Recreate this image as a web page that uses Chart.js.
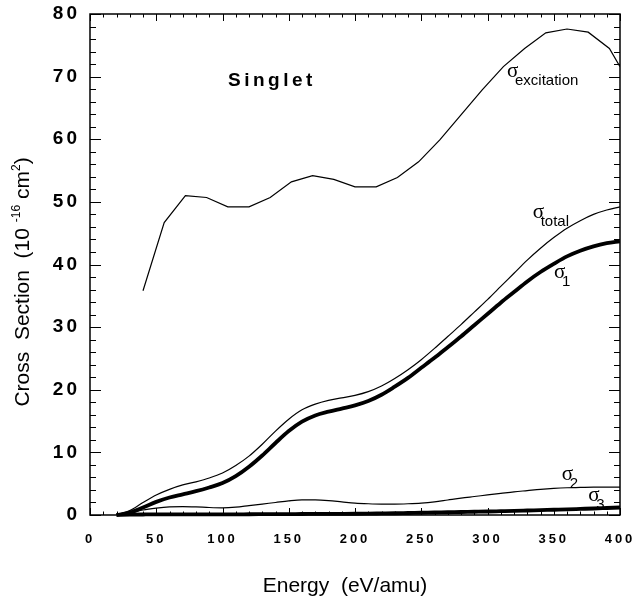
<!DOCTYPE html>
<html>
<head>
<meta charset="utf-8">
<script src="https://cdn.jsdelivr.net/npm/chart.js@4.4.0/dist/chart.umd.min.js"></script>
<style>
	html, body { margin: 0; padding: 0; background: #fff; }
	#wrap { width: 634px; height: 607px; }
</style>
</head>
<body>
<div id="wrap"><canvas id="chart" width="634" height="607"></canvas></div>
<script>
const energy = [20, 30, 40, 50, 60, 70, 80, 90, 100, 110, 120, 130, 140, 150, 160, 170, 180, 190, 200, 210, 220, 230, 240, 250, 260, 270, 280, 290, 300, 310, 320, 330, 340, 350, 360, 370, 380, 390, 400];
const sigmaTotal = [0, 0.7, 2.0, 3.2, 4.1, 4.8, 5.3, 5.9, 6.7, 7.9, 9.4, 11.3, 13.4, 15.3, 16.8, 17.7, 18.3, 18.7, 19.1, 19.7, 20.6, 21.8, 23.2, 24.8, 26.6, 28.5, 30.4, 32.4, 34.4, 36.5, 38.6, 40.7, 42.6, 44.3, 45.8, 47.0, 48.0, 48.7, 49.2];
const sigma1 = [0, 0.4, 1.2, 2.1, 2.8, 3.3, 3.8, 4.4, 5.1, 6.2, 7.7, 9.5, 11.5, 13.4, 14.9, 15.9, 16.5, 17.0, 17.5, 18.2, 19.2, 20.5, 21.9, 23.5, 25.1, 26.8, 28.5, 30.3, 32.1, 33.9, 35.6, 37.3, 38.8, 40.1, 41.3, 42.2, 42.9, 43.4, 43.7];
const sigma2 = [0, 0.3, 0.8, 1.1, 1.3, 1.35, 1.3, 1.2, 1.15, 1.25, 1.5, 1.75, 2.0, 2.25, 2.4, 2.4, 2.3, 2.1, 1.9, 1.8, 1.75, 1.75, 1.8, 1.9, 2.1, 2.4, 2.7, 2.95, 3.2, 3.45, 3.7, 3.9, 4.1, 4.25, 4.35, 4.4, 4.45, 4.45, 4.45];
const sigma3 = [0, 0.05, 0.08, 0.1, 0.1, 0.1, 0.1, 0.1, 0.1, 0.1, 0.12, 0.13, 0.14, 0.15, 0.16, 0.17, 0.18, 0.19, 0.2, 0.22, 0.25, 0.28, 0.32, 0.36, 0.4, 0.44, 0.48, 0.52, 0.56, 0.61, 0.66, 0.72, 0.78, 0.84, 0.9, 0.97, 1.04, 1.12, 1.2];
const excitationEnergy = [40, 56, 72, 88, 104, 120, 136, 152, 168, 184, 200, 216, 232, 248, 264, 280, 296, 312, 328, 344, 360, 376, 392, 400];
const sigmaExcitation = [35.8, 46.7, 51.0, 50.7, 49.2, 49.2, 50.7, 53.2, 54.2, 53.6, 52.4, 52.4, 53.9, 56.4, 59.9, 63.9, 67.9, 71.6, 74.5, 77.0, 77.6, 77.1, 74.5, 71.6];
const xTicks = [0, 50, 100, 150, 200, 250, 300, 350, 400];
const yTicks = [0, 10, 20, 30, 40, 50, 60, 70, 80];
const curveNames = ['excitation', 'total', '1', '2', '3'];
const nameEnergy = [314.7, 334.1, 350.2, 356, 376.1];
const nameValue = [70.0, 47.4, 37.8, 5.6, 2.3];
const panelTitle = 'Singlet';
const xTitle = 'Energy  (eV/amu)';
const yTitle = [['Cross  Section  (10 ', false], ['-16', true], [' cm', false], ['2', true], [')', false]];

const points = (xs, ys) => xs.map((x, i) => ({ x: x, y: ys[i] }));
const line = (xs, ys, width, extra) => Object.assign({
	data: points(xs, ys),
	borderColor: '#000',
	borderWidth: width,
	pointRadius: 0,
	fill: false,
	cubicInterpolationMode: 'monotone'
}, extra || {});
const noOverhang = scale => {
	scale.paddingTop = 0;
	scale.paddingBottom = 0;
	scale.paddingLeft = 0;
	scale.paddingRight = 0;
};

const decorations = {
	id: 'decorations',
	beforeDraw: chart => {
		chart.ctx.letterSpacing = '3px';
	},
	beforeDatasetsDraw: chart => {
		const ctx = chart.ctx;
		const x = chart.scales.x;
		const y = chart.scales.y;
		ctx.save();
		ctx.letterSpacing = '0px';
		ctx.fillStyle = '#000';
		ctx.textBaseline = 'alphabetic';
		ctx.textAlign = 'left';
		curveNames.forEach((name, i) => {
			const px = x.getPixelForValue(nameEnergy[i]);
			const py = y.getPixelForValue(nameValue[i]);
			ctx.font = '21px "Liberation Serif"';
			ctx.fillText('σ', px, py);
			ctx.font = '15px "Liberation Sans"';
			ctx.fillText(name, px + 8, py + 8);
		});
		ctx.restore();
	},
	afterDraw: chart => {
		const ctx = chart.ctx;
		const area = chart.chartArea;
		const x = chart.scales.x;
		const y = chart.scales.y;
		ctx.save();
		ctx.letterSpacing = '0px';
		ctx.strokeStyle = '#000';
		ctx.lineWidth = 1.5;
		ctx.strokeRect(area.left, area.top, area.right - area.left, area.bottom - area.top);
		ctx.lineWidth = 1;
		ctx.beginPath();
		for (let v = 0; v <= 400; v += 10) {
			const px = Math.round(x.getPixelForValue(v)) + 0.5;
			const len = v % 50 === 0 ? 7 : 3.5;
			ctx.moveTo(px, area.bottom);
			ctx.lineTo(px, area.bottom - len);
			ctx.moveTo(px, area.top);
			ctx.lineTo(px, area.top + len);
		}
		for (let v = 0; v <= 80; v += 2) {
			const py = Math.round(y.getPixelForValue(v)) + 0.5;
			const len = v % 10 === 0 ? 11 : 6;
			ctx.moveTo(area.left, py);
			ctx.lineTo(area.left + len, py);
			ctx.moveTo(area.right, py);
			ctx.lineTo(area.right - len, py);
		}
		ctx.stroke();

		ctx.fillStyle = '#000';
		ctx.textAlign = 'left';
		ctx.textBaseline = 'alphabetic';
		ctx.font = 'bold 19px "Liberation Sans"';
		ctx.letterSpacing = '3.5px';
		ctx.fillText(panelTitle, x.getPixelForValue(104.2), y.getPixelForValue(68.5));
		ctx.letterSpacing = '0px';

		ctx.font = '21px "Liberation Sans"';
		ctx.textAlign = 'center';
		ctx.fillText(xTitle, 345, 592);

		ctx.translate(29, 282);
		ctx.rotate(-Math.PI / 2);
		ctx.textAlign = 'left';
		const fontFor = sup => sup ? '12px "Liberation Sans"' : '21px "Liberation Sans"';
		let total = 0;
		yTitle.forEach(part => {
			ctx.font = fontFor(part[1]);
			total += ctx.measureText(part[0]).width;
		});
		let cx = -total / 2;
		yTitle.forEach(part => {
			ctx.font = fontFor(part[1]);
			ctx.fillText(part[0], cx, part[1] ? -9 : 0);
			cx += ctx.measureText(part[0]).width;
		});
		ctx.restore();
	}
};

new Chart(document.getElementById('chart'), {
	type: 'line',
	data: {
		datasets: [
			line(excitationEnergy, sigmaExcitation, 1.2, { cubicInterpolationMode: 'default', tension: 0 }),
			line(energy, sigmaTotal, 1.2),
			line(energy, sigma1, 3.8),
			line(energy, sigma2, 1.2),
			line(energy, sigma3, 3.8, { clip: false })
		]
	},
	options: {
		responsive: false,
		devicePixelRatio: 1,
		animation: false,
		layout: { padding: { top: 14, right: 14, left: 0, bottom: 0 } },
		plugins: { legend: { display: false }, tooltip: { enabled: false } },
		scales: {
			x: {
				type: 'linear',
				min: 0,
				max: 400,
				afterFit: scale => { scale.height = 92; noOverhang(scale); },
				afterBuildTicks: scale => { scale.ticks = xTicks.map(v => ({ value: v })); },
				grid: { display: false },
				border: { display: false },
				ticks: { color: '#000', font: { family: 'Liberation Sans', size: 13, weight: 'bold' }, padding: 9, maxRotation: 0, autoSkip: false }
			},
			y: {
				type: 'linear',
				min: 0,
				max: 80,
				afterFit: scale => { scale.width = 90; noOverhang(scale); },
				afterBuildTicks: scale => { scale.ticks = yTicks.map(v => ({ value: v })); },
				grid: { display: false },
				border: { display: false },
				ticks: { color: '#000', font: { family: 'Liberation Sans', size: 19, weight: 'bold' }, padding: 2 }
			}
		}
	},
	plugins: [decorations]
});
</script>
</body>
</html>
